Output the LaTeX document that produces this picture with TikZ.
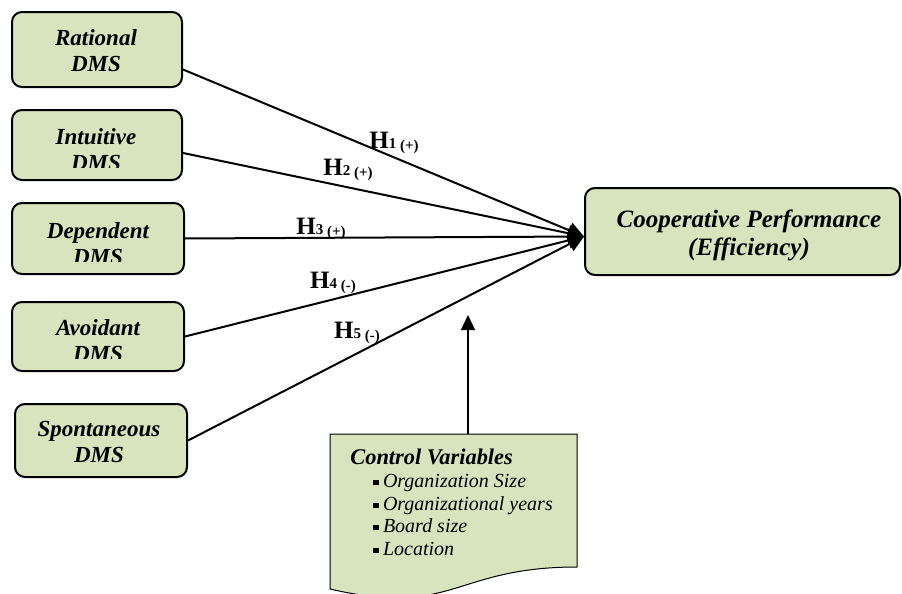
\documentclass[tikz,border=0pt]{standalone}
\usepackage{fontspec}
\setmainfont{Liberation Serif}
\usetikzlibrary{arrows.meta}

\definecolor{boxgreen}{RGB}{215,228,189}
\newcommand{\hyp}[2]{\textbf{H{\fontsize{7.5}{9}\selectfont#1 \raisebox{-1.2pt}{(#2)}}}}
\newcommand{\sqbullet}{\rule[1.2pt]{2.6pt}{2.6pt}\hspace{2.2pt}}

\begin{document}
\begin{tikzpicture}[x=0.5pt,y=-0.5pt,>={Triangle[length=8pt,width=8pt]},
    dms box/.style={draw,rounded corners=5pt,fill=boxgreen,line width=1pt,inner sep=0pt},
    dms text/.style={align=center,inner sep=0pt,font=\fontsize{11.5}{13}\selectfont\bfseries\itshape},
    hyp label/.style={inner sep=0pt,font=\fontsize{12.5}{14}\selectfont},
    link/.style={line width=1pt,->}]
    \clip (0,0) rectangle (902,594);
    % predictors
    \node[dms box,minimum width=85pt,minimum height=37.5pt] (rational) at (97,49.5) {};
    \node[dms text] (rationaltext) at (96,51) {Rational\\DMS};
    \node[dms box,minimum width=85pt,minimum height=35pt] (intuitive) at (97,145) {};
    \begin{scope}
        \clip (12,110) rectangle (182,167);
        \node[dms text] (intuitivetext) at (96,150) {Intuitive\\DMS};
    \end{scope}
    \node[dms box,minimum width=86pt,minimum height=35.5pt] (dependent) at (98,238.5) {};
    \begin{scope}
        \clip (12,203) rectangle (184,261);
        \node[dms text] (dependenttext) at (98,244) {Dependent\\DMS};
    \end{scope}
    \node[dms box,minimum width=86pt,minimum height=34.5pt] (avoidant) at (98,336.5) {};
    \begin{scope}
        \clip (12,302) rectangle (184,358);
        \node[dms text] (avoidanttext) at (98,341) {Avoidant\\DMS};
    \end{scope}
    \node[dms box,minimum width=86pt,minimum height=36.5pt] (spontaneous) at (101,440.5) {};
    \node[dms text] (spontaneoustext) at (99,442) {Spontaneous\\DMS};
    % outcome
    \node[dms box,minimum width=157.5pt,minimum height=43.5pt] (coop) at (742.5,231.5) {};
    \node[dms text,font=\fontsize{12.5}{14}\selectfont\bfseries\itshape] (cooptext) at (749,235)
        {Cooperative Performance\\(Efficiency)};
    \coordinate (hub) at ([yshift=-2.5pt]coop.west);
    \path[link]
    ([yshift=-10pt]rational.east) edge (hub)
    ([yshift=-4pt]intuitive.east) edge (hub)
    (dependent.east) edge (hub)
    (avoidant.east) edge (hub)
    (spontaneous.east) edge (hub);
    \node[hyp label] (h1) at (394,143) {\hyp{1}{+}};
    \node[hyp label] (h2) at (348,170) {\hyp{2}{+}};
    \node[hyp label] (h3) at (321,229) {\hyp{3}{+}};
    \node[hyp label] (h4) at (333,283) {\hyp{4}{-}};
    \node[hyp label] (h5) at (357,333) {\hyp{5}{-}};
    % control variables
    \draw[fill=boxgreen,line width=0.5pt] (330,434) -- (577,434) -- (577,567)
        .. controls (453.5,567) and (453.5,617.8) .. (330,589) -- cycle;
    \node[anchor=north west,align=left,inner sep=0pt,font=\fontsize{10}{11.3}\selectfont\itshape] (ctrl) at (350,449)
        {{\fontsize{11.2}{11.3}\selectfont\bfseries Control Variables}\\
        \hspace*{11.5pt}\sqbullet Organization Size\\
        \hspace*{11.5pt}\sqbullet Organizational years\\
        \hspace*{11.5pt}\sqbullet Board size\\
        \hspace*{11.5pt}\sqbullet Location};
    \coordinate (ctrltop) at (468,434);
    \coordinate (ctrltip) at (468,315);
    \draw[line width=0.6pt,-{Triangle[length=7.5pt,width=7pt]}] (ctrltop) -- (ctrltip);
\end{tikzpicture}
\end{document}
